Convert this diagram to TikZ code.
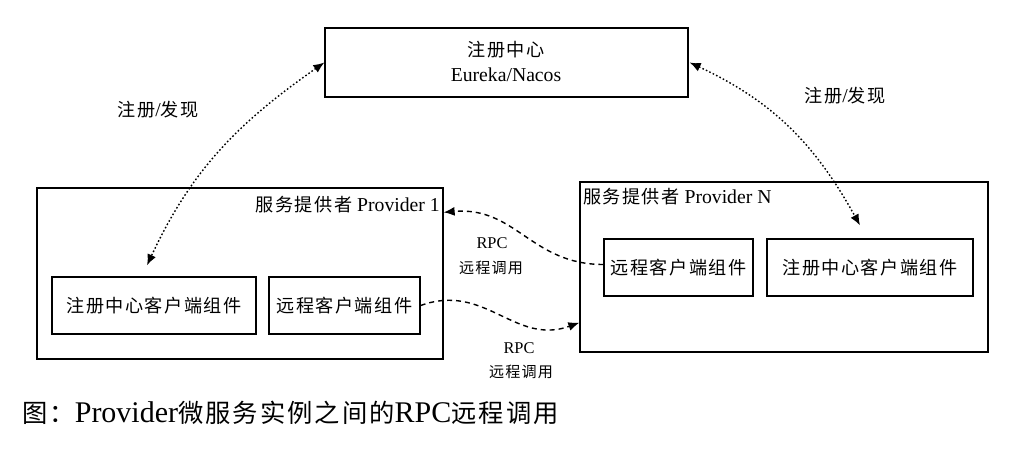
\documentclass[tikz,border=0pt]{standalone}
\usepackage{fontspec}
\setmainfont{Liberation Serif}
\newfontfamily\cjk[Scale=0.92,LetterSpace=8]{Noto Sans CJK SC}
\usetikzlibrary{arrows.meta}
\begin{document}
\begin{tikzpicture}[x=1pt,y=-1pt,
  box/.style={draw,line width=1.3pt,inner sep=0pt},
  txt/.style={inner sep=0pt,font=\fontsize{19.7}{22}\selectfont},
  small/.style={inner sep=0pt,font=\fontsize{16.4}{18}\selectfont},
  dotarrow/.style={line width=1.4pt,dash pattern=on 1.6pt off 2.2pt,{Latex[length=11pt,width=9pt]}-{Latex[length=11pt,width=9pt]}},
  dasharrow/.style={line width=1.4pt,dash pattern=on 5pt off 4pt,-{Latex[length=11pt,width=9pt]}}]
\useasboundingbox[fill=white] (0,0) rectangle (1036,462);
% boxes
\node[box,minimum width=363pt,minimum height=69pt] (reg) at (506.5,62.5) {};
\node[txt] (regt1) at (506,50) {\cjk 注册中心};
\node[txt] (regt2) at (506,75) {Eureka/Nacos};
\node[box,minimum width=406pt,minimum height=171pt] (p1) at (240,273.5) {};
\node[txt,anchor=east] (p1t) at (440,205) {{\cjk 服务提供者} Provider 1};
\node[box,minimum width=204pt,minimum height=57pt] (p1reg) at (154,305.5) {};
\node[txt] (p1regt) at (154,305.5) {\cjk 注册中心客户端组件};
\node[box,minimum width=151pt,minimum height=57pt] (p1rpc) at (344.5,305.5) {};
\node[txt] (p1rpct) at (344.5,305.5) {\cjk 远程客户端组件};
\node[box,minimum width=408pt,minimum height=170pt] (pN) at (784,267) {};
\node[txt,anchor=west] (pNt) at (583,197) {{\cjk 服务提供者} Provider N};
\node[box,minimum width=149pt,minimum height=57pt] (pNrpc) at (678.5,267.5) {};
\node[txt] (pNrpct) at (678.5,267.5) {\cjk 远程客户端组件};
\node[box,minimum width=206pt,minimum height=57pt] (pNreg) at (870,267.5) {};
\node[txt] (pNregt) at (870,267.5) {\cjk 注册中心客户端组件};
% labels
\node[txt] (l1) at (158,110) {{\cjk 注册}/{\cjk 发现}};
\node[txt] (l2) at (845,96) {{\cjk 注册}/{\cjk 发现}};
\node[small] (r1a) at (492,243) {RPC};
\node[small] (r1b) at (491,268) {\cjk 远程调用};
\node[small] (r2a) at (519,348) {RPC};
\node[small] (r2b) at (521,372) {\cjk 远程调用};
% connectors
\draw[dotarrow] (reg.west) to[out=215,in=65] ([xshift=-7pt,yshift=11pt]p1reg.north);
\draw[dotarrow] ([xshift=1pt]reg.east) to[out=335,in=119] ([xshift=-10pt,yshift=13pt]pNreg.north);
\draw[dasharrow] ([yshift=3pt]pNrpc.west) to[out=180,in=5,looseness=1.1] ([yshift=-25pt]p1.north east);
\draw[dasharrow] (p1rpc.east) to[out=20,in=200,looseness=1.1] ([yshift=30pt]pN.south west);
% caption
\node[inner sep=0pt,anchor=west] (cap) at (22,413) {\fontsize{27.5}{30}\selectfont{\cjk 图：}{\fontsize{30}{32}\selectfont Provider}{\cjk 微服务实例之间的}{\fontsize{30}{32}\selectfont RPC}{\cjk 远程调用}};
\end{tikzpicture}
\end{document}
